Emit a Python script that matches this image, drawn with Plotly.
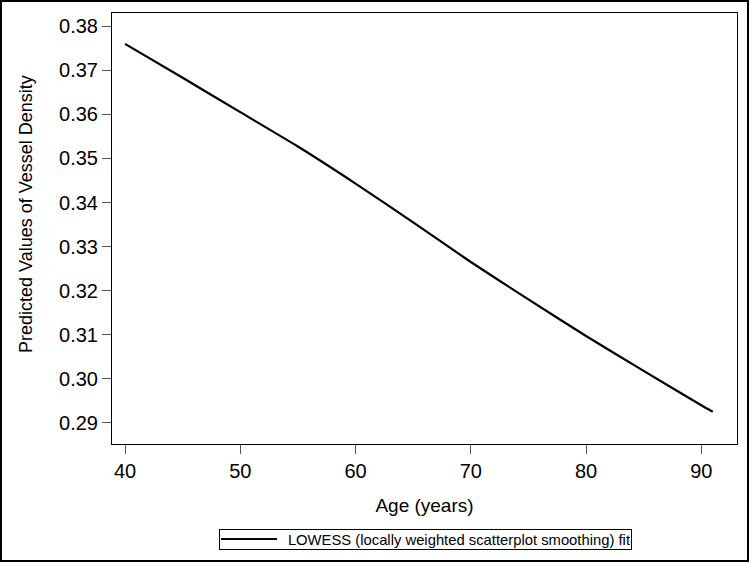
import plotly.graph_objects as go

age = [40, 45, 50, 55, 60, 65, 70, 75, 80, 85, 90, 91]
vessel_density = [0.3760, 0.3683, 0.3605, 0.3527, 0.3443, 0.3355, 0.3265, 0.3180, 0.3097, 0.3018, 0.2940, 0.2925]
series_name = "LOWESS (locally weighted scatterplot smoothing) fit"
y_title = "Predicted Values of Vessel Density"
x_title = "Age (years)"
y_ticks = [0.29, 0.30, 0.31, 0.32, 0.33, 0.34, 0.35, 0.36, 0.37, 0.38]
y_labels = ["0.29", "0.30", "0.31", "0.32", "0.33", "0.34", "0.35", "0.36", "0.37", "0.38"]
x_ticks = [40, 50, 60, 70, 80, 90]

W, H = 750, 562
ml, mr, mt, mb = 112, 13, 13, 118
pw, ph = W - ml - mr, H - mt - mb


def px(xp):
    return (xp - ml) / pw


def py(yp):
    return (H - mb - yp) / ph


fig = go.Figure()
fig.add_trace(go.Scatter(x=age, y=vessel_density, mode="lines", name=series_name,
                         line=dict(color="black", width=2.2, shape="spline", smoothing=0.5),
                         showlegend=False))

font = "Liberation Sans, Arial, sans-serif"
fig.update_layout(
    width=W, height=H,
    margin=dict(l=ml, r=mr, t=mt, b=mb, autoexpand=False),
    paper_bgcolor="white", plot_bgcolor="white",
    font=dict(family=font, color="black", size=20),
    showlegend=False,
    xaxis=dict(range=[38.87, 93.1], tickvals=x_ticks, ticks="outside", ticklen=9,
               tickcolor="#555", tickwidth=1, showline=True, linecolor="black",
               linewidth=1, mirror=True, showgrid=False, zeroline=False,
               tickfont=dict(size=20), automargin=False,
               title=dict(text=x_title, font=dict(size=19), standoff=17)),
    yaxis=dict(range=[0.2852, 0.3830], tickvals=y_ticks, ticktext=y_labels,
               ticks="outside", ticklen=9, tickcolor="#555", tickwidth=1,
               showline=True, linecolor="black", linewidth=1, mirror=True,
               showgrid=False, zeroline=False, tickfont=dict(size=20), automargin=False),
)

# y-axis title
fig.add_annotation(xref="paper", yref="paper", x=px(26), y=py(214),
                   xanchor="center", yanchor="middle", showarrow=False,
                   text=y_title, textangle=-90, font=dict(size=18, color="black"))

# legend box drawn as annotation + line sample
fig.add_annotation(xref="paper", yref="paper", x=px(425), y=py(539),
                   xanchor="center", yanchor="middle", showarrow=False,
                   text=series_name, font=dict(size=14.8, color="black"),
                   width=409, height=17, align="right", borderpad=1,
                   bordercolor="black", borderwidth=1)
fig.add_shape(type="line", xref="paper", yref="paper",
              x0=px(221), x1=px(277), y0=py(539), y1=py(539),
              line=dict(color="black", width=2))

# outer frame around the whole figure
fig.add_shape(type="rect", xref="paper", yref="paper",
              x0=px(1), x1=px(W - 2), y0=py(H - 1), y1=py(1),
              line=dict(color="black", width=2), fillcolor="rgba(0,0,0,0)", layer="below")

fig.write_html("out.html", config={"displayModeBar": False},
               post_script="document.body.style.margin='0';document.body.style.overflow='hidden';")
